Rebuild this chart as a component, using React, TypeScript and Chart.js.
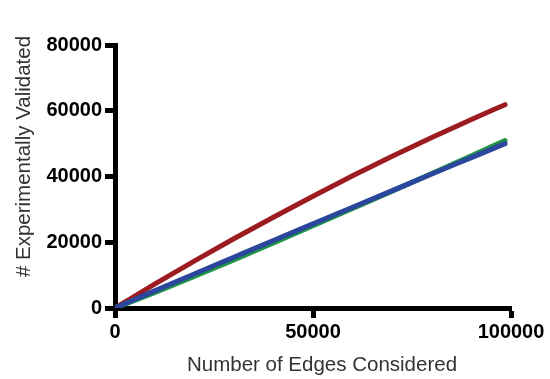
import React, { useEffect, useRef } from "react";
import { Chart, registerables } from "chart.js";

Chart.register(...registerables);

// Edges considered (x) and cumulative experimentally validated counts (y)
const edgesConsidered = [0, 10000, 20000, 30000, 40000, 50000, 60000, 70000, 80000, 90000, 98500];
const redSeries = [0, 7250, 14250, 21050, 27600, 34000, 40200, 46150, 51850, 57350, 61850];
const greenSeries = [0, 4700, 9600, 14650, 19800, 25000, 30250, 35550, 40900, 46300, 50930];
const blueSeries = [0, 5200, 10350, 15450, 20550, 25600, 30650, 35700, 40750, 45750, 50000];

const xTicks = [0, 50000, 100000];
const yTicks = [0, 20000, 40000, 60000, 80000];

const xTitle = "Number of Edges Considered";
const yTitle = "# Experimentally Validated";

const FONT = "'Liberation Sans', Arial, Helvetica, sans-serif";

const toPoints = (ys: number[]) => edgesConsidered.map((x, i) => ({ x, y: ys[i] }));

// Axis titles, drawn relative to the chart area
const axisTitles = {
  id: "axisTitles",
  afterDraw(chart: any) {
    const { ctx, chartArea } = chart;
    ctx.save();
    ctx.fillStyle = "#333333";
    ctx.font = `20.5px ${FONT}`;
    ctx.textAlign = "center";
    ctx.textBaseline = "alphabetic";
    ctx.fillText(xTitle, (chartArea.left + chartArea.right) / 2 + 9, chartArea.bottom + 63);
    ctx.translate(chartArea.left - 85, (chartArea.top + chartArea.bottom) / 2 - 20);
    ctx.rotate(-Math.PI / 2);
    ctx.fillText(yTitle, 0, 0);
    ctx.restore();
  },
};

export default function App() {
  const canvasRef = useRef<HTMLCanvasElement | null>(null);

  useEffect(() => {
    if (!canvasRef.current) return;
    const lineStyle = {
      borderWidth: 5,
      pointRadius: 0,
      fill: false,
      cubicInterpolationMode: "monotone" as const,
      borderCapStyle: "round" as const,
      borderJoinStyle: "round" as const,
    };
    const tickFont = { family: FONT, size: 20, weight: "bold" as const };
    const axisGrid = {
      drawOnChartArea: false,
      drawTicks: true,
      tickLength: 10,
      tickWidth: 5,
      tickColor: "#000",
    };
    const chart = new Chart(canvasRef.current, {
      type: "line",
      data: {
        datasets: [
          { label: "blue", data: toPoints(blueSeries), borderColor: "#2b469c", ...lineStyle },
          { label: "green", data: toPoints(greenSeries), borderColor: "#1f9446", ...lineStyle },
          { label: "red", data: toPoints(redSeries), borderColor: "#9c1c22", ...lineStyle },
        ],
      },
      options: {
        animation: false,
        responsive: false,
        layout: { padding: { top: 45, right: 39, left: 0, bottom: 0 } },
        plugins: { legend: { display: false }, tooltip: { enabled: false } },
        scales: {
          x: {
            type: "linear",
            min: 0,
            max: 100000,
            afterFit: (scale: any) => {
              scale.height = 71;
            },
            afterBuildTicks: (scale: any) => {
              scale.ticks = xTicks.map((value) => ({ value }));
            },
            grid: axisGrid,
            border: { display: true, width: 5, color: "#000" },
            ticks: {
              color: "#000",
              padding: 2,
              maxRotation: 0,
              font: tickFont,
              callback: (v: any) => String(v),
            },
          },
          y: {
            type: "linear",
            min: 0,
            max: 80000,
            afterFit: (scale: any) => {
              scale.width = 115;
            },
            afterBuildTicks: (scale: any) => {
              scale.ticks = yTicks.map((value) => ({ value }));
            },
            grid: axisGrid,
            border: { display: true, width: 5, color: "#000" },
            ticks: {
              color: "#000",
              padding: 3,
              font: tickFont,
              callback: (v: any) => String(v),
            },
          },
        },
      },
      plugins: [axisTitles],
    });
    return () => chart.destroy();
  }, []);

  return (
    <div style={{ position: "absolute", left: 0, top: 0, width: 550, height: 379, background: "#fff" }}>
      <canvas ref={canvasRef} width={550} height={379} />
    </div>
  );
}
